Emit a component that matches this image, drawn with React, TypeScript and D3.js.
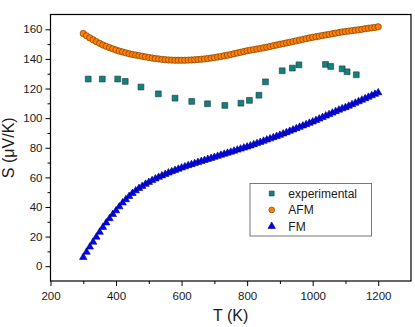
import React, { useEffect, useRef } from 'react';
import * as d3 from 'd3';

// temperature grid of the calculated curves (K)
const calcT = [
  300, 310, 320, 330, 340, 350, 360, 370, 380, 390,
  400, 410, 420, 430, 440, 450, 460, 470, 480, 490,
  500, 510, 520, 530, 540, 550, 560, 570, 580, 590,
  600, 610, 620, 630, 640, 650, 660, 670, 680, 690,
  700, 710, 720, 730, 740, 750, 760, 770, 780, 790,
  800, 810, 820, 830, 840, 850, 860, 870, 880, 890,
  900, 910, 920, 930, 940, 950, 960, 970, 980, 990,
  1000, 1010, 1020, 1030, 1040, 1050, 1060, 1070, 1080, 1090,
  1100, 1110, 1120, 1130, 1140, 1150, 1160, 1170, 1180, 1190,
  1200,
];

const afmS = [
  157.2, 155.6, 154.2, 152.9, 151.7, 150.5, 149.4, 148.5, 147.6, 146.8,
  146.0, 145.3, 144.7, 144.1, 143.5, 143.0, 142.6, 142.2, 141.8, 141.4,
  141.0, 140.6, 140.3, 140.0, 139.7, 139.5, 139.3, 139.2, 139.1, 139.1,
  139.1, 139.1, 139.2, 139.3, 139.4, 139.6, 139.8, 140.0, 140.3, 140.6,
  140.9, 141.3, 141.7, 142.1, 142.5, 143.0, 143.5, 144.0, 144.5, 145.0,
  145.5, 145.9, 146.3, 146.7, 147.1, 147.5, 147.9, 148.4, 148.9, 149.4,
  149.9, 150.3, 150.8, 151.3, 151.7, 152.2, 152.7, 153.2, 153.7, 154.2,
  154.6, 155.0, 155.4, 155.8, 156.2, 156.6, 157.0, 157.4, 157.8, 158.2,
  158.5, 158.8, 159.1, 159.4, 159.7, 160.0, 160.4, 160.7, 161.0, 161.3,
  161.7,
];

const fmS = [
  6.0, 9.5, 13.0, 16.3, 19.7, 23.0, 26.3, 29.3, 32.2, 35.0,
  37.5, 40.2, 42.8, 45.0, 47.2, 49.2, 51.0, 52.6, 54.0, 55.4,
  56.7, 57.9, 59.0, 60.1, 61.1, 62.1, 63.0, 63.9, 64.8, 65.6,
  66.4, 67.2, 68.0, 68.7, 69.4, 70.1, 70.8, 71.5, 72.2, 72.9,
  73.6, 74.3, 75.0, 75.7, 76.4, 77.1, 77.8, 78.5, 79.2, 79.9,
  80.6, 81.3, 82.1, 82.9, 83.7, 84.5, 85.3, 86.1, 86.9, 87.7,
  88.5, 89.4, 90.3, 91.2, 92.1, 93.0, 93.9, 94.8, 95.7, 96.6,
  97.5, 98.5, 99.5, 100.5, 101.5, 102.5, 103.5, 104.5, 105.5, 106.4,
  107.2, 108.2, 109.2, 110.2, 111.2, 112.2, 113.2, 114.2, 115.2, 116.2,
  117.2,
];

const expT = [315, 358, 405, 428, 476, 529, 580, 631, 679, 732, 781, 807, 836, 856, 907, 938, 958, 1039, 1055, 1090, 1105, 1133];
const expS = [126.4, 126.4, 126.4, 124.8, 121.0, 116.4, 113.5, 111.3, 109.7, 108.6, 110.1, 112.0, 115.5, 124.5, 132.0, 133.8, 136.0, 136.3, 134.9, 133.3, 131.3, 129.3];

const xTicks = [200, 400, 600, 800, 1000, 1200];
const xMinor = [300, 500, 700, 900, 1100, 1300];
const yTicks = [0, 20, 40, 60, 80, 100, 120, 140, 160];
const yMinor = [-10, 10, 30, 50, 70, 90, 110, 130, 150, 170];

const seriesNames = ['experimental', 'AFM', 'FM'];

const FONT = '"Liberation Sans", Arial, sans-serif';

const App = () => {
  const ref = useRef<SVGSVGElement>(null);

  useEffect(() => {
    document.body.style.margin = '0';
    const svg = d3.select(ref.current);
    svg.selectAll('*').remove();

    const x = d3.scaleLinear().domain([200, 1300]).range([50.5, 411]);
    const y = d3.scaleLinear().domain([-10, 170]).range([281, 14.5]);

    const expColor = '#13807f';
    const afmColor = '#ff8000';
    const fmColor = '#0000ff';

    // experimental squares
    const sq = d3.symbol().type(d3.symbolSquare).size(34);
    svg.append('g').selectAll('path')
      .data(expT.map((t, i) => [t, expS[i]]))
      .enter().append('path')
      .attr('d', sq)
      .attr('transform', d => `translate(${x(d[0])},${y(d[1])})`)
      .attr('fill', expColor)
      .attr('stroke', '#1d3b3b')
      .attr('stroke-width', 0.6);

    // AFM circles
    const circ = d3.symbol().type(d3.symbolCircle).size(32);
    svg.append('g').selectAll('path')
      .data(calcT.map((t, i) => [t, afmS[i]]))
      .enter().append('path')
      .attr('d', circ)
      .attr('transform', d => `translate(${x(d[0])},${y(d[1])})`)
      .attr('fill', afmColor)
      .attr('stroke', '#6b3300')
      .attr('stroke-width', 0.6);

    // FM triangles
    const tri = d3.symbol().type(d3.symbolTriangle).size(24);
    svg.append('g').selectAll('path')
      .data(calcT.map((t, i) => [t, fmS[i]]))
      .enter().append('path')
      .attr('d', tri)
      .attr('transform', d => `translate(${x(d[0])},${y(d[1])})`)
      .attr('fill', fmColor)
      .attr('stroke', '#000070')
      .attr('stroke-width', 0.6);

    // frame
    const [x0, x1] = x.range();
    const [y0, y1] = y.range();
    svg.append('rect')
      .attr('x', x0).attr('y', y1)
      .attr('width', x1 - x0).attr('height', y0 - y1)
      .attr('fill', 'none').attr('stroke', '#000').attr('stroke-width', 1.2);

    // axes
    const styleAxis = (g: any) => {
      g.select('.domain').remove();
      g.selectAll('line').attr('stroke', '#000').attr('stroke-width', 1);
      g.selectAll('text').attr('font-family', FONT).attr('font-size', 11.5).attr('fill', '#1a1a1a');
    };

    svg.append('g')
      .attr('transform', `translate(0,${y0})`)
      .call(d3.axisBottom(x).tickValues(xTicks).tickSize(5).tickPadding(6).tickFormat(d3.format('d')))
      .call(styleAxis);
    svg.append('g')
      .attr('transform', `translate(0,${y0})`)
      .call(d3.axisBottom(x).tickValues(xMinor.filter(v => v < 1300)).tickSize(3).tickFormat(() => ''))
      .call(styleAxis);

    svg.append('g')
      .attr('transform', `translate(${x0},0)`)
      .call(d3.axisLeft(y).tickValues(yTicks).tickSize(5).tickPadding(3).tickFormat(d3.format('d')))
      .call(styleAxis);
    svg.append('g')
      .attr('transform', `translate(${x0},0)`)
      .call(d3.axisLeft(y).tickValues(yMinor.filter(v => v > -10 && v < 170)).tickSize(3).tickFormat(() => ''))
      .call(styleAxis);

    // axis titles
    svg.append('text')
      .attr('x', (x0 + x1) / 2)
      .attr('y', 321)
      .attr('text-anchor', 'middle')
      .attr('font-family', FONT)
      .attr('font-size', 16)
      .attr('fill', '#1a1a1a')
      .text('T (K)');

    svg.append('text')
      .attr('transform', `translate(13.5,${(y0 + y1) / 2}) rotate(-90)`)
      .attr('text-anchor', 'middle')
      .attr('font-family', FONT)
      .attr('font-size', 16)
      .attr('fill', '#1a1a1a')
      .text('S (\u03bcV/K)');

    // legend
    const legend = svg.append('g').attr('transform', 'translate(250,183.5)');
    legend.append('rect')
      .attr('width', 121.5).attr('height', 52.5)
      .attr('fill', '#fff').attr('stroke', '#777').attr('stroke-width', 1);
    const legendSymbols = [
      { sym: d3.symbol().type(d3.symbolSquare).size(24), fill: expColor, stroke: '#1d3b3b' },
      { sym: d3.symbol().type(d3.symbolCircle).size(26), fill: afmColor, stroke: '#6b3300' },
      { sym: d3.symbol().type(d3.symbolTriangle).size(24), fill: fmColor, stroke: '#000070' },
    ];
    seriesNames.forEach((name, i) => {
      const row = legend.append('g').attr('transform', `translate(0,${10 + i * 16.4})`);
      row.append('path')
        .attr('d', legendSymbols[i].sym)
        .attr('transform', 'translate(21.7,0)')
        .attr('fill', legendSymbols[i].fill)
        .attr('stroke', legendSymbols[i].stroke)
        .attr('stroke-width', 0.6);
      row.append('text')
        .attr('x', 38.3)
        .attr('dy', '0.35em')
        .attr('font-family', FONT)
        .attr('font-size', 12)
        .attr('fill', '#1a1a1a')
        .text(name);
    });
  }, []);

  return <svg ref={ref} width={415} height={327} style={{ display: 'block', background: '#fff' }} />;
};

export default App;
